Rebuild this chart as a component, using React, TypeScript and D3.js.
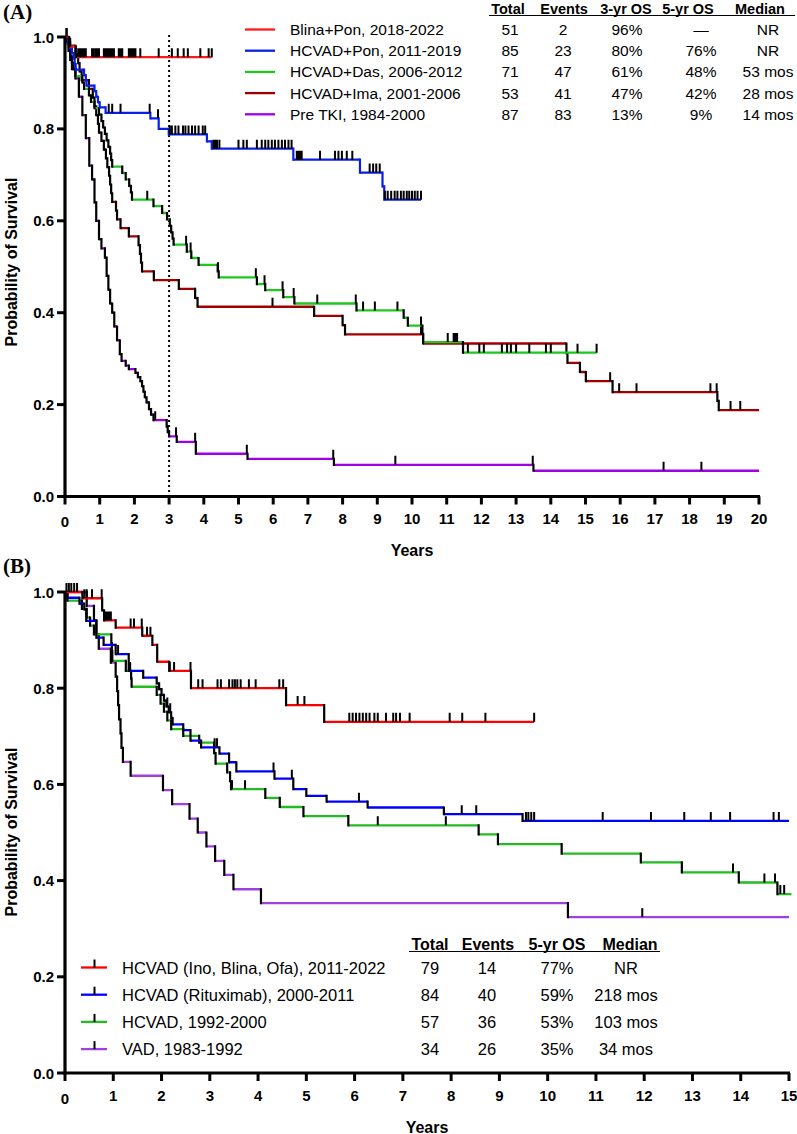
import React from "react";
import * as d3 from "d3";

const FONT = '"Liberation Sans", Arial, Helvetica, sans-serif';

// ---------- shared ticks ----------
const yTickValues = [0, 0.2, 0.4, 0.6, 0.8, 1.0];
const yTickLabels = ["0.0", "0.2", "0.4", "0.6", "0.8", "1.0"];
const aYearTicks = [0, 1, 2, 3, 4, 5, 6, 7, 8, 9, 10, 11, 12, 13, 14, 15, 16, 17, 18, 19, 20];
const bYearTicks = [0, 1, 2, 3, 4, 5, 6, 7, 8, 9, 10, 11, 12, 13, 14, 15];

// ---------- Panel A table ----------
const aNames = ["Blina+Pon, 2018-2022", "HCVAD+Pon, 2011-2019", "HCVAD+Das, 2006-2012", "HCVAD+Ima, 2001-2006", "Pre TKI, 1984-2000"];
const aHeaders = ["Total", "Events", "3-yr OS", "5-yr OS", "Median"];
const aTotal = ["51", "85", "71", "53", "87"];
const aEvents = ["2", "23", "47", "41", "83"];
const aOS3 = ["96%", "80%", "61%", "47%", "13%"];
const aOS5 = ["\u2014", "76%", "48%", "42%", "9%"];
const aMedian = ["NR", "NR", "53 mos", "28 mos", "14 mos"];

// ---------- Panel A curves ----------
const aBlinaPonTimes = [0.11, 0.31];
const aBlinaPonSurv = [0.979, 0.956];
const aBlinaPonEnd = 4.23;
const aBlinaPonCensored = [0.15, 0.38, 0.4, 0.42, 0.45, 0.48, 0.5, 0.53, 0.56, 0.6, 0.78, 0.82, 0.88, 0.93, 0.98, 1.12, 1.17, 1.22, 1.27, 1.31, 1.36, 1.41, 1.55, 1.6, 1.65, 1.84, 1.89, 1.93, 1.98, 2.03, 2.17, 2.7, 3.08, 3.25, 3.42, 3.54, 3.9, 4.14, 4.23];

const aHcvadPonTimes = [0.08, 0.15, 0.2, 0.25, 0.28, 0.31, 0.55, 0.6, 0.62, 0.85, 0.9, 0.95, 1.0, 1.17, 2.46, 2.7, 2.99, 4.09, 4.23, 6.58, 8.5, 9.15, 9.2];
const aHcvadPonSurv = [0.988, 0.976, 0.965, 0.953, 0.941, 0.929, 0.917, 0.905, 0.894, 0.882, 0.87, 0.858, 0.847, 0.835, 0.823, 0.8, 0.788, 0.773, 0.757, 0.733, 0.705, 0.675, 0.646];
const aHcvadPonEnd = 10.26;
const aHcvadPonCensored = [0.04, 1.26, 1.36, 1.6, 2.44, 2.68, 3.02, 3.08, 3.18, 3.27, 3.4, 3.47, 3.56, 3.66, 3.75, 3.85, 3.97, 4.04, 4.28, 4.33, 4.38, 4.45, 5.0, 5.14, 5.24, 5.53, 5.67, 5.77, 5.86, 5.96, 6.05, 6.15, 6.25, 6.34, 6.44, 6.53, 6.68, 6.72, 6.77, 6.82, 7.35, 7.78, 7.88, 7.98, 8.12, 8.28, 8.78, 8.88, 8.97, 9.07, 9.22, 9.3, 9.4, 9.5, 9.58, 9.68, 9.76, 9.85, 9.92, 10.0, 10.08, 10.16, 10.26];

const aHcvadDasTimes = [0.08, 0.12, 0.16, 0.2, 0.25, 0.3, 0.5, 0.55, 0.69, 0.75, 0.85, 0.98, 1.05, 1.1, 1.15, 1.2, 1.25, 1.3, 1.33, 1.36, 1.65, 1.75, 1.85, 1.9, 1.93, 2.55, 2.8, 2.94, 3.02, 3.06, 3.1, 3.13, 3.51, 3.64, 3.85, 4.4, 4.43, 5.53, 5.77, 6.29, 6.61, 8.4, 9.76, 9.88, 10.3, 10.32, 11.47];
const aHcvadDasSurv = [0.986, 0.972, 0.958, 0.944, 0.93, 0.915, 0.901, 0.887, 0.873, 0.859, 0.845, 0.831, 0.817, 0.803, 0.789, 0.775, 0.761, 0.746, 0.732, 0.718, 0.704, 0.69, 0.676, 0.662, 0.646, 0.632, 0.617, 0.603, 0.589, 0.575, 0.561, 0.548, 0.533, 0.519, 0.504, 0.49, 0.477, 0.462, 0.449, 0.434, 0.42, 0.405, 0.389, 0.372, 0.354, 0.336, 0.313];
const aHcvadDasEnd = 15.32;
const aHcvadDasCensored = [0.05, 2.37, 3.49, 3.62, 4.41, 5.5, 5.75, 6.27, 6.59, 7.27, 8.38, 8.59, 8.93, 9.58, 10.26, 11.03, 11.2, 11.25, 11.3, 11.61, 11.94, 12.07, 12.59, 12.74, 12.85, 13.0, 13.38, 13.86, 14.0, 14.77, 15.32];

const aHcvadImaTimes = [0.12, 0.3, 0.38, 0.42, 0.48, 0.69, 0.8, 0.85, 0.9, 0.95, 0.98, 1.05, 1.12, 1.18, 1.22, 1.27, 1.3, 1.33, 1.36, 1.47, 1.5, 1.6, 1.84, 2.12, 2.16, 2.19, 2.22, 2.56, 3.28, 3.75, 3.82, 7.18, 8.0, 8.07, 10.32, 14.45, 14.48, 14.84, 15.01, 15.78, 18.8, 18.84];
const aHcvadImaSurv = [0.981, 0.962, 0.943, 0.925, 0.906, 0.887, 0.868, 0.849, 0.83, 0.811, 0.792, 0.774, 0.755, 0.736, 0.717, 0.698, 0.679, 0.66, 0.641, 0.622, 0.603, 0.584, 0.566, 0.547, 0.528, 0.509, 0.49, 0.471, 0.452, 0.432, 0.413, 0.393, 0.373, 0.353, 0.333, 0.312, 0.291, 0.271, 0.251, 0.227, 0.208, 0.188];
const aHcvadImaEnd = 20;
const aHcvadImaCensored = [5.98, 10.26, 15.71, 15.97, 16.47, 18.6, 18.78, 19.18, 19.46];

const aPreTkiTimes = [0.05, 0.1, 0.15, 0.2, 0.3, 0.4, 0.5, 0.6, 0.7, 0.78, 0.85, 0.9, 0.98, 1.05, 1.15, 1.2, 1.25, 1.3, 1.36, 1.42, 1.5, 1.58, 1.63, 1.75, 1.84, 2.03, 2.1, 2.17, 2.22, 2.26, 2.3, 2.35, 2.42, 2.48, 2.55, 2.93, 2.96, 3.0, 3.22, 3.77, 5.26, 7.75, 13.5];
const aPreTkiSurv = [0.99, 0.97, 0.95, 0.93, 0.91, 0.87, 0.83, 0.78, 0.72, 0.69, 0.64, 0.6, 0.56, 0.54, 0.52, 0.48, 0.45, 0.42, 0.4, 0.37, 0.34, 0.31, 0.295, 0.285, 0.277, 0.269, 0.26, 0.251, 0.24, 0.228, 0.216, 0.205, 0.19, 0.178, 0.166, 0.152, 0.14, 0.131, 0.119, 0.093, 0.082, 0.069, 0.056];
const aPreTkiEnd = 20;
const aPreTkiCensored = [2.6, 3.2, 3.75, 5.24, 7.73, 9.52, 13.48, 17.25, 18.34];

// ---------- Panel B table ----------
const bNames = ["HCVAD (Ino, Blina, Ofa), 2011-2022", "HCVAD (Rituximab), 2000-2011", "HCVAD, 1992-2000", "VAD, 1983-1992"];
const bHeaders = ["Total", "Events", "5-yr OS", "Median"];
const bTotal = ["79", "84", "57", "34"];
const bEvents = ["14", "40", "36", "26"];
const bOS5 = ["77%", "59%", "53%", "35%"];
const bMedian = ["NR", "218 mos", "103 mos", "34 mos"];

// ---------- Panel B curves ----------
const bInoTimes = [0.36, 0.77, 0.81, 1.05, 1.6, 1.81, 1.91, 2.16, 2.61, 4.58, 5.37];
const bInoSurv = [0.987, 0.962, 0.941, 0.926, 0.909, 0.89, 0.855, 0.836, 0.8, 0.765, 0.73];
const bInoEnd = 9.72;
const bInoCensored = [0.03, 0.08, 0.13, 0.19, 0.25, 0.4, 0.45, 0.56, 0.76, 0.84, 0.87, 0.9, 0.93, 0.95, 1.36, 1.43, 1.59, 1.7, 1.77, 2.17, 2.26, 2.6, 2.76, 2.85, 3.16, 3.23, 3.4, 3.47, 3.52, 3.57, 3.64, 3.81, 3.95, 4.44, 4.52, 4.82, 4.96, 5.89, 5.96, 6.03, 6.1, 6.17, 6.24, 6.31, 6.41, 6.48, 6.65, 6.8, 6.86, 6.94, 7.14, 7.97, 8.23, 8.71, 9.72];

const bRituxTimes = [0.05, 0.3, 0.4, 0.44, 0.65, 0.8, 1.05, 1.32, 1.62, 1.9, 1.95, 2.0, 2.05, 2.1, 2.15, 2.2, 2.23, 2.45, 2.6, 2.82, 3.2, 3.4, 3.55, 4.34, 4.73, 5.0, 5.42, 6.27, 7.85, 9.48];
const bRituxSurv = [0.988, 0.976, 0.964, 0.94, 0.905, 0.89, 0.871, 0.836, 0.822, 0.81, 0.798, 0.786, 0.774, 0.762, 0.75, 0.738, 0.725, 0.713, 0.691, 0.677, 0.664, 0.646, 0.627, 0.612, 0.59, 0.576, 0.564, 0.552, 0.538, 0.524];
const bRituxEnd = 15;
const bRituxCensored = [1.1, 1.35, 2.12, 2.18, 3.1, 3.15, 4.32, 4.7, 6.09, 8.22, 8.52, 9.55, 9.6, 9.66, 9.72, 11.14, 12.14, 12.83, 13.38, 13.78, 14.68, 14.79];

const bHcvadTimes = [0.05, 0.35, 0.45, 0.52, 0.6, 0.96, 0.97, 0.98, 1.26, 1.37, 1.38, 1.9, 1.98, 2.05, 2.12, 2.2, 2.45, 2.78, 3.09, 3.12, 3.36, 3.42, 3.44, 4.15, 4.45, 4.94, 5.87, 8.57, 8.97, 10.29, 11.93, 12.78, 13.96, 14.76];
const bHcvadSurv = [0.982, 0.965, 0.947, 0.93, 0.912, 0.894, 0.877, 0.857, 0.836, 0.82, 0.803, 0.786, 0.768, 0.751, 0.733, 0.715, 0.701, 0.687, 0.665, 0.643, 0.625, 0.607, 0.59, 0.572, 0.553, 0.534, 0.515, 0.496, 0.476, 0.456, 0.438, 0.417, 0.396, 0.372];
const bHcvadEnd = 15.05;
const bHcvadCensored = [3.46, 3.73, 6.48, 7.89, 13.84, 14.49, 14.71, 14.82, 14.9];

const bVadTimes = [0.45, 0.6, 0.65, 0.7, 0.95, 1.05, 1.08, 1.1, 1.12, 1.15, 1.17, 1.2, 1.36, 2.03, 2.22, 2.58, 2.75, 2.93, 3.11, 3.3, 3.49, 4.06, 10.42];
const bVadSurv = [0.971, 0.941, 0.912, 0.882, 0.853, 0.824, 0.794, 0.765, 0.735, 0.706, 0.676, 0.647, 0.618, 0.588, 0.559, 0.529, 0.5, 0.471, 0.441, 0.412, 0.382, 0.353, 0.324];
const bVadEnd = 15;
const bVadCensored = [11.96];

// ---------- styles ----------
const aColors = ["#ff1a1a", "#0a1eea", "#1ec81e", "#a00000", "#a000e6"];
const aRiserColors = ["#000000", "#0a1eea", "#000000", "#000000", "#000000"];
const bColors = ["#ff0000", "#0000ff", "#22bb22", "#a040e0"];

type Series = { times: number[]; surv: number[]; end: number; censored: number[]; color: string; riser: string };

function survAt(times: number[], surv: number[], t: number) {
  let s = 1;
  for (let i = 0; i < times.length; i++) if (times[i] <= t) s = surv[i];
  return s;
}

function Curve({ s, x, y }: { s: Series; x: d3.ScaleLinear<number, number>; y: d3.ScaleLinear<number, number> }) {
  const h = d3.path();
  const v = d3.path();
  let pt = 0;
  let ps = 1;
  s.times.forEach((t, i) => {
    h.moveTo(x(pt), y(ps));
    h.lineTo(x(t), y(ps));
    v.moveTo(x(t), y(ps));
    v.lineTo(x(t), y(s.surv[i]));
    pt = t;
    ps = s.surv[i];
  });
  h.moveTo(x(pt), y(ps));
  h.lineTo(x(s.end), y(ps));
  const tk = d3.path();
  s.censored.forEach((c) => {
    const yy = y(survAt(s.times, s.surv, c));
    tk.moveTo(x(c), yy);
    tk.lineTo(x(c), yy - 9);
  });
  return (
    <g>
      <path d={h.toString()} stroke={s.color} strokeWidth={2.3} fill="none" />
      <path d={v.toString()} stroke={s.riser} strokeWidth={2.2} fill="none" strokeLinecap="square" />
      <path d={tk.toString()} stroke="#000" strokeWidth={2} fill="none" />
    </g>
  );
}

function Axes({ x, y, ticks, title, labelY }: { x: d3.ScaleLinear<number, number>; y: d3.ScaleLinear<number, number>; ticks: number[]; title: string; labelY: number }) {
  const [x0, x1] = x.range();
  const [y0, y1] = y.range();
  return (
    <g fontFamily={FONT} fontWeight="bold">
      <line x1={x0} x2={x0} y1={y1 - 1} y2={y0 + 1.5} stroke="#000" strokeWidth={3.2} />
      <line x1={x0 - 1.5} x2={x1 + 1} y1={y0} y2={y0} stroke="#000" strokeWidth={3.2} />
      {yTickValues.map((v, i) => (
        <g key={"y" + i}>
          <line x1={x0 - 8} x2={x0} y1={y(v)} y2={y(v)} stroke="#000" strokeWidth={3} />
          <text x={x0 - 11} y={y(v)} textAnchor="end" dominantBaseline="central" fontSize={15}>
            {yTickLabels[i]}
          </text>
        </g>
      ))}
      {ticks.map((t) => (
        <g key={"x" + t}>
          <line x1={x(t)} x2={x(t)} y1={y0} y2={y0 + 8} stroke="#000" strokeWidth={3} />
          <text x={x(t)} y={y0 + (t === 0 ? 25 : 22)} textAnchor="middle" dominantBaseline="central" fontSize={15}>
            {t}
          </text>
        </g>
      ))}
      <text x={(x0 + x1) / 2} y={y0 + 54} textAnchor="middle" dominantBaseline="central" fontSize={16}>
        Years
      </text>
      <text transform={`translate(11,${labelY}) rotate(-90)`} textAnchor="middle" dominantBaseline="central" fontSize={16}>
        {title}
      </text>
    </g>
  );
}

export default function App() {
  const xA = d3.scaleLinear().domain([0, 20]).range([65, 759]);
  const yA = d3.scaleLinear().domain([0, 1]).range([496.5, 37]);
  const xB = d3.scaleLinear().domain([0, 15]).range([65, 789]);
  const yB = d3.scaleLinear().domain([0, 1]).range([1073, 592]);

  const aSeries: Series[] = [
    { times: aBlinaPonTimes, surv: aBlinaPonSurv, end: aBlinaPonEnd, censored: aBlinaPonCensored, color: aColors[0], riser: aRiserColors[0] },
    { times: aHcvadPonTimes, surv: aHcvadPonSurv, end: aHcvadPonEnd, censored: aHcvadPonCensored, color: aColors[1], riser: aRiserColors[1] },
    { times: aHcvadDasTimes, surv: aHcvadDasSurv, end: aHcvadDasEnd, censored: aHcvadDasCensored, color: aColors[2], riser: aRiserColors[2] },
    { times: aHcvadImaTimes, surv: aHcvadImaSurv, end: aHcvadImaEnd, censored: aHcvadImaCensored, color: aColors[3], riser: aRiserColors[3] },
    { times: aPreTkiTimes, surv: aPreTkiSurv, end: aPreTkiEnd, censored: aPreTkiCensored, color: aColors[4], riser: aRiserColors[4] },
  ];
  const bSeries: Series[] = [
    { times: bInoTimes, surv: bInoSurv, end: bInoEnd, censored: bInoCensored, color: bColors[0], riser: "#000" },
    { times: bRituxTimes, surv: bRituxSurv, end: bRituxEnd, censored: bRituxCensored, color: bColors[1], riser: "#000" },
    { times: bHcvadTimes, surv: bHcvadSurv, end: bHcvadEnd, censored: bHcvadCensored, color: bColors[2], riser: "#000" },
    { times: bVadTimes, surv: bVadSurv, end: bVadEnd, censored: bVadCensored, color: bColors[3], riser: "#000" },
  ];

  const aCols = [510, 563, 627, 701, 768];
  const aHeadCols = [508, 564, 626, 688, 760];
  const aRowY = (i: number) => 29.5 + i * 21.2;
  const bCols = [430, 487, 557, 626];
  const bHeadCols = [430, 488, 557, 630];
  const bRowY = (i: number) => 967.5 + i * 27.2;

  return (
    <svg width={797} height={1134} style={{ position: "absolute", left: 0, top: 0, background: "#fff" }} xmlns="http://www.w3.org/2000/svg">
      <rect width={797} height={1134} fill="#fff" />
      {/* Panel A */}
      <text x={3} y={12} fontFamily='"Liberation Serif", "Times New Roman", serif' fontWeight="bold" fontSize={21} dominantBaseline="central">
        (A)
      </text>
      <line x1={xA(3)} x2={xA(3)} y1={yA(1) - 2} y2={yA(0)} stroke="#000" strokeWidth={2} strokeDasharray="2,3" />
      {[...aSeries].reverse().map((s, i) => (
        <Curve key={"a" + i} s={s} x={xA} y={yA} />
      ))}
      <Axes x={xA} y={yA} ticks={aYearTicks} title="Probability of Survival" labelY={262} />
      <g fontFamily={FONT}>
        {aNames.map((n, i) => (
          <g key={"al" + i}>
            <line x1={245} x2={275} y1={aRowY(i)} y2={aRowY(i)} stroke={aColors[i]} strokeWidth={2.3} />
            <text x={290} y={aRowY(i)} dominantBaseline="central" fontSize={15.5}>
              {n}
            </text>
            <text x={aCols[0]} y={aRowY(i)} textAnchor="middle" dominantBaseline="central" fontSize={15.5}>{aTotal[i]}</text>
            <text x={aCols[1]} y={aRowY(i)} textAnchor="middle" dominantBaseline="central" fontSize={15.5}>{aEvents[i]}</text>
            <text x={aCols[2]} y={aRowY(i)} textAnchor="middle" dominantBaseline="central" fontSize={15.5}>{aOS3[i]}</text>
            <text x={aCols[3]} y={aRowY(i)} textAnchor="middle" dominantBaseline="central" fontSize={15.5}>{aOS5[i]}</text>
            <text x={aCols[4]} y={aRowY(i)} textAnchor="middle" dominantBaseline="central" fontSize={15.5}>{aMedian[i]}</text>
          </g>
        ))}
        {aHeaders.map((h, i) => (
          <text key={"ah" + i} x={aHeadCols[i]} y={9} textAnchor="middle" dominantBaseline="central" fontSize={14.5} fontWeight="bold">
            {h}
          </text>
        ))}
        <line x1={489} x2={795} y1={15.5} y2={15.5} stroke="#000" strokeWidth={1.2} />
      </g>

      {/* Panel B */}
      <text x={3} y={566} fontFamily='"Liberation Serif", "Times New Roman", serif' fontWeight="bold" fontSize={21} dominantBaseline="central">
        (B)
      </text>
      {[...bSeries].reverse().map((s, i) => (
        <Curve key={"b" + i} s={s} x={xB} y={yB} />
      ))}
      <Axes x={xB} y={yB} ticks={bYearTicks} title="Probability of Survival" labelY={832} />
      <g fontFamily={FONT}>
        {bHeaders.map((h, i) => (
          <text key={"bh" + i} x={bHeadCols[i]} y={944} textAnchor="middle" dominantBaseline="central" fontSize={16} fontWeight="bold">
            {h}
          </text>
        ))}
        <line x1={409} x2={660} y1={951.5} y2={951.5} stroke="#000" strokeWidth={1.2} />
        {bNames.map((n, i) => (
          <g key={"bl" + i}>
            <line x1={81} x2={107} y1={bRowY(i)} y2={bRowY(i)} stroke={bColors[i]} strokeWidth={2.3} />
            <line x1={94.5} x2={94.5} y1={bRowY(i)} y2={bRowY(i) - 8} stroke="#000" strokeWidth={2} />
            <text x={122} y={bRowY(i)} dominantBaseline="central" fontSize={16.5}>
              {n}
            </text>
            <text x={bCols[0]} y={bRowY(i)} textAnchor="middle" dominantBaseline="central" fontSize={16.5}>{bTotal[i]}</text>
            <text x={bCols[1]} y={bRowY(i)} textAnchor="middle" dominantBaseline="central" fontSize={16.5}>{bEvents[i]}</text>
            <text x={bCols[2]} y={bRowY(i)} textAnchor="middle" dominantBaseline="central" fontSize={16.5}>{bOS5[i]}</text>
            <text x={bCols[3]} y={bRowY(i)} textAnchor="middle" dominantBaseline="central" fontSize={16.5}>{bMedian[i]}</text>
          </g>
        ))}
      </g>
    </svg>
  );
}
